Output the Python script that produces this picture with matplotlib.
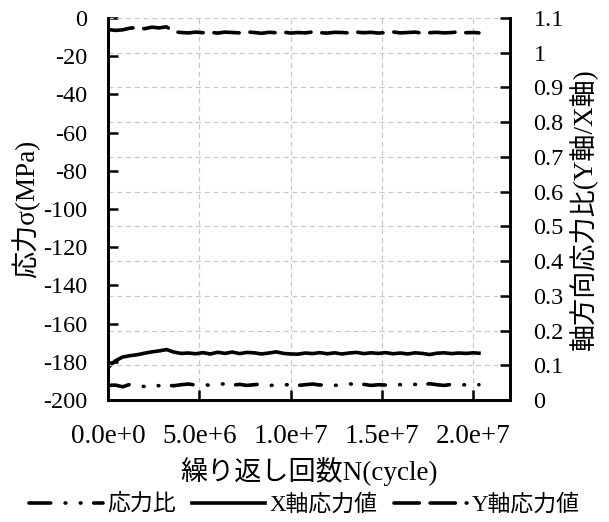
import matplotlib
matplotlib.use("Agg")
import matplotlib.pyplot as plt
from matplotlib.ticker import FixedLocator, FixedFormatter

plt.rcParams['font.family'] = ['Liberation Serif', 'Noto Sans CJK JP']
plt.rcParams['axes.unicode_minus'] = False

# cycles (in units of 1e6)
cycles_m = [0.0, 0.4, 0.8, 1.2, 1.6, 2.0, 2.4, 2.8, 3.2, 3.6,
            4.0, 4.4, 4.8, 5.2, 5.6, 6.0, 6.4, 6.8, 7.2, 7.6,
            8.0, 8.4, 8.8, 9.2, 9.6, 10.0, 10.4, 10.8, 11.2, 11.6,
            12.0, 12.4, 12.8, 13.2, 13.6, 14.0, 14.4, 14.8, 15.2, 15.6,
            16.0, 16.4, 16.8, 17.2, 17.6, 18.0, 18.4, 18.8, 19.2, 19.6,
            20.0, 20.3]

x_stress = [-183.0, -179.5, -177.5, -176.8, -176.3, -175.5, -174.8, -174.3, -173.6, -174.9,
            -175.6, -175.4, -175.8, -175.2, -175.9, -175.0, -175.6, -174.9, -175.7, -175.1,
            -175.3, -175.9, -175.4, -174.8, -175.6, -175.9, -176.0, -175.4, -175.7, -175.2,
            -175.8, -175.3, -175.9, -175.4, -175.1, -175.7, -175.3, -175.6, -175.2, -175.8,
            -175.4, -175.9, -175.3, -175.6, -176.2, -175.5, -175.3, -175.7, -175.4, -175.6,
            -175.3, -175.5]

y_stress = [-6.0, -6.5, -6.2, -5.3, -5.0, -5.6, -4.8, -5.2, -4.6, -7.2,
            -7.6, -7.8, -7.4, -7.7, -7.5, -7.9, -7.4, -7.6, -7.8, -7.3,
            -7.6, -8.0, -7.5, -7.7, -7.4, -7.9, -7.6, -7.8, -7.3, -7.7,
            -7.9, -7.5, -7.6, -7.8, -7.4, -7.7, -7.5, -7.9, -7.6, -7.3,
            -7.8, -7.6, -7.4, -7.9, -7.7, -7.5, -7.8, -7.6, -7.3, -7.7,
            -7.6, -7.8]

ratio = [0.042, 0.043, 0.038, 0.045, 0.040, 0.039, 0.044, 0.041, 0.043, 0.041,
         0.044, 0.046, 0.043, 0.045, 0.042, 0.044, 0.047, 0.043, 0.045, 0.042,
         0.044, 0.046, 0.041, 0.044, 0.043, 0.045, 0.042, 0.044, 0.046, 0.043,
         0.045, 0.042, 0.044, 0.047, 0.043, 0.045, 0.042, 0.044, 0.043, 0.046,
         0.044, 0.042, 0.045, 0.043, 0.047, 0.044, 0.042, 0.045, 0.043, 0.044,
         0.042, 0.044]

x_ticks = [0.0, 5.0e6, 1.0e7, 1.5e7, 2.0e7]
x_tick_labels = ['0.0e+0', '5.0e+6', '1.0e+7', '1.5e+7', '2.0e+7']
left_ticks = [0, -20, -40, -60, -80, -100, -120, -140, -160, -180, -200]
right_ticks = [0, 0.1, 0.2, 0.3, 0.4, 0.5, 0.6, 0.7, 0.8, 0.9, 1.0, 1.1]
right_tick_labels = ['0', '0.1', '0.2', '0.3', '0.4', '0.5', '0.6', '0.7', '0.8', '0.9', '1', '1.1']

cycles = [c * 1e6 for c in cycles_m]

fig = plt.figure(figsize=(6.09, 5.22), dpi=100)
ax = fig.add_axes([108/609, 1 - 400/522, (510 - 108)/609, (400 - 18)/522])
ax2 = ax.twinx()

lw = 2.6
# X stress: solid
lx, = ax.plot(cycles, x_stress, color='black', lw=lw, solid_joinstyle='round',
              label='X軸応力値')
# Y stress: dashed
ly, = ax.plot(cycles, y_stress, color='black', lw=lw, dashes=(7.0, 3.0),
              dash_capstyle='round', label='Y軸応力値')
# ratio: dash-dot-dot on right axis
lr, = ax2.plot(cycles, ratio, color='black', lw=lw, dashes=(6.0, 4.0, 0.2, 4.0, 0.2, 3.5),
               dash_capstyle='round', label='応力比')

ax.set_xlim(0, 2.2e7)
ax.set_ylim(-200, 0)
ax2.set_ylim(0, 1.1)

ax.xaxis.set_major_locator(FixedLocator(x_ticks))
ax.xaxis.set_major_formatter(FixedFormatter(x_tick_labels))
ax.yaxis.set_major_locator(FixedLocator(left_ticks))
ax2.yaxis.set_major_locator(FixedLocator(right_ticks))
ax2.yaxis.set_major_formatter(FixedFormatter(right_tick_labels))

# grid: vertical from x ticks, horizontal from right axis ticks
ax.grid(axis='x', color='#c8c8c8', linestyle=(0, (4, 3)), lw=0.9)
ax2.grid(axis='y', color='#c8c8c8', linestyle=(0, (4, 3)), lw=0.9)
ax.set_axisbelow(True)
ax2.set_axisbelow(True)

for a in (ax, ax2):
    a.spines['top'].set_visible(False)
    for s in ('left', 'right', 'bottom'):
        a.spines[s].set_linewidth(2.0)
ax.tick_params(axis='both', direction='in', length=7, width=1.8)
ax2.tick_params(axis='y', direction='in', length=7, width=1.8)
ax.tick_params(axis='y', labelsize=17.5, pad=15)
ax.tick_params(axis='x', labelsize=19.5, pad=17)
ax2.tick_params(axis='y', labelsize=17.5, pad=17)

ax.set_ylabel('応力σ(MPa)', fontsize=19.5, labelpad=2)
ax2.set_ylabel('軸方向応力比(Y軸/X軸)', fontsize=19.5, labelpad=4)
ax.set_xlabel('繰り返し回数N(cycle)', fontsize=19.5, labelpad=6)

leg = fig.legend(handles=[lr, lx, ly], loc='center', bbox_to_anchor=(0.5, 1 - 505/522),
                 ncol=3, frameon=False, fontsize=16.5, handlelength=3.2,
                 handletextpad=0.2, columnspacing=0.7, borderpad=0.0)

fig.savefig('out.png', dpi=100)
